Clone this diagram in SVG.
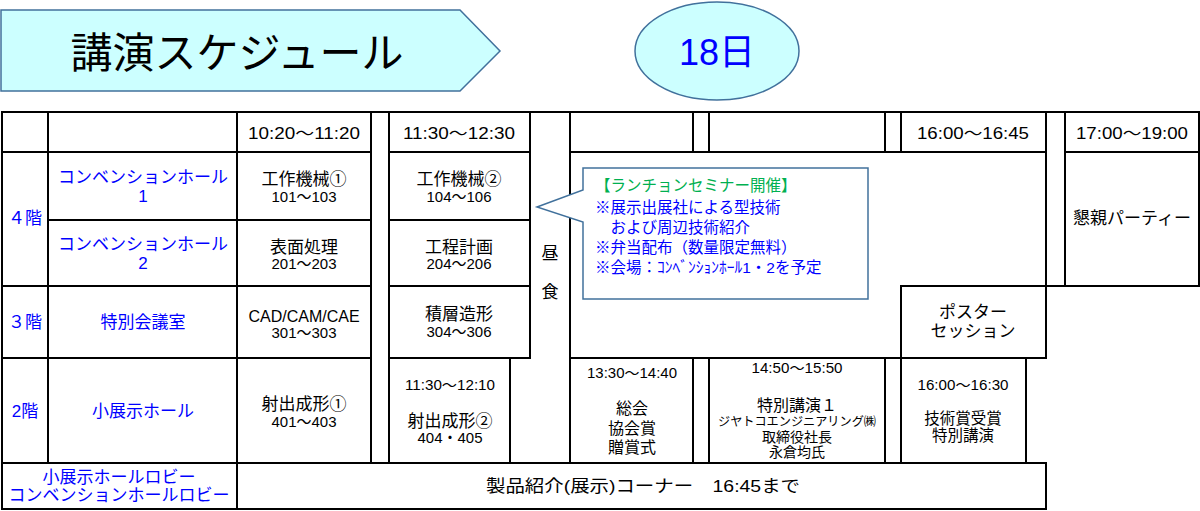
<svg xmlns="http://www.w3.org/2000/svg" width="1200" height="511" viewBox="0 0 1200 511">
<style>
.c{fill:#fff;stroke:#000;stroke-width:2}
.t{font-family:"Liberation Sans","Noto Sans CJK JP",sans-serif;text-anchor:middle;dominant-baseline:central;fill:#000}
.s{text-anchor:start}
.bl{fill:#0000FF}
.gr{fill:#00B050}
.f17{font-size:17px}
.f16{font-size:16px}
.f15{font-size:15.5px}
.f14{font-size:14px}
.n{font-size:15px}
.f13{font-size:12.5px}
.hd{fill:#CCFFFF;stroke:#41719C;stroke-width:1.5}
</style>
<rect width="1200" height="511" fill="#fff"/>
<g id="title">
<polygon class="hd" points="1,10 460,10 500,51 460,91 1,91"/>
<text class="t" x="237" y="53" style="font-size:42px">講演スケジュール</text>
</g>
<g id="day">
<ellipse class="hd" cx="717" cy="51" rx="82" ry="49"/>
<text class="t bl" x="717" y="52" style="font-size:36px">18日</text>
</g>
<g id="header-row">
<rect class="c" x="2" y="112" width="46" height="40"/>
<rect class="c" x="48" y="112" width="189" height="40"/>
<rect class="c" x="237" y="112" width="134" height="40"/>
<text class="t f16" x="304" y="133" textLength="112" lengthAdjust="spacingAndGlyphs">10:20～11:20</text>
<rect class="c" x="389" y="112" width="141" height="40"/>
<text class="t f16" x="459" y="133" textLength="112" lengthAdjust="spacingAndGlyphs">11:30～12:30</text>
<rect class="c" x="570" y="112" width="123" height="40"/>
<rect class="c" x="693" y="112" width="16" height="40"/>
<rect class="c" x="709" y="112" width="176" height="40"/>
<rect class="c" x="885" y="112" width="16" height="40"/>
<rect class="c" x="901" y="112" width="145" height="40"/>
<text class="t f16" x="973" y="133" textLength="112" lengthAdjust="spacingAndGlyphs">16:00～16:45</text>
<rect class="c" x="1065" y="112" width="134" height="40"/>
<text class="t f16" x="1132" y="133" textLength="112" lengthAdjust="spacingAndGlyphs">17:00～19:00</text>
</g>
<g id="gap1"><rect class="c" x="371" y="112" width="18" height="351"/></g>
<g id="gap4"><rect class="c" x="1046" y="112" width="19" height="174"/></g>
<g id="lunch">
<polygon class="c" points="530,112 570,112 570,463 510,463 510,358 530,358"/>
<text class="t f17" x="550" y="253">昼</text>
<text class="t f17" x="550" y="292">食</text>
</g>
<g id="floor4">
<rect class="c" x="2" y="152" width="46" height="134"/>
<text class="t f17 bl" x="25" y="218">４階</text>
</g>
<g id="hall1">
<rect class="c" x="48" y="152" width="189" height="68"/>
<text class="t f17 bl" x="143" y="177">コンベンションホール</text>
<text class="t f17 bl" x="143" y="196">1</text>
</g>
<g id="hall2">
<rect class="c" x="48" y="220" width="189" height="66"/>
<text class="t f17 bl" x="143" y="244">コンベンションホール</text>
<text class="t f17 bl" x="143" y="263">2</text>
</g>
<g id="s101">
<rect class="c" x="237" y="152" width="134" height="68"/>
<text class="t f17" x="304" y="179">工作機械①</text>
<text class="t n" x="304" y="196">101～103</text>
</g>
<g id="s201">
<rect class="c" x="237" y="220" width="134" height="66"/>
<text class="t f17" x="304" y="247">表面処理</text>
<text class="t n" x="304" y="263">201～203</text>
</g>
<g id="s104">
<rect class="c" x="389" y="152" width="141" height="68"/>
<text class="t f17" x="459" y="179">工作機械②</text>
<text class="t n" x="459" y="196">104～106</text>
</g>
<g id="s204">
<rect class="c" x="389" y="220" width="141" height="66"/>
<text class="t f17" x="459" y="247">工程計画</text>
<text class="t n" x="459" y="263">204～206</text>
</g>
<g id="floor3">
<rect class="c" x="2" y="286" width="46" height="72"/>
<text class="t f17 bl" x="25" y="322">３階</text>
</g>
<g id="room3">
<rect class="c" x="48" y="286" width="189" height="72"/>
<text class="t f17 bl" x="143" y="322">特別会議室</text>
</g>
<g id="s301">
<rect class="c" x="237" y="286" width="134" height="72"/>
<text class="t f16" x="304" y="316">CAD/CAM/CAE</text>
<text class="t n" x="304" y="332">301～303</text>
</g>
<g id="s304">
<rect class="c" x="389" y="286" width="141" height="72"/>
<text class="t f17" x="459" y="314">積層造形</text>
<text class="t n" x="459" y="331">304～306</text>
</g>
<g id="seminar-area">
<rect class="c" x="570" y="152" width="476" height="206"/>
</g>
<g id="poster">
<rect class="c" x="901" y="286" width="145" height="72"/>
<text class="t f17" x="973" y="312">ポスター</text>
<text class="t f17" x="973" y="331">セッション</text>
</g>
<g id="party">
<rect class="c" x="1065" y="152" width="134" height="134"/>
<text class="t f17" x="1132" y="218">懇親パーティー</text>
</g>
<g id="floor2">
<rect class="c" x="2" y="358" width="46" height="105"/>
<text class="t f17 bl" x="25" y="411">2階</text>
</g>
<g id="room2">
<rect class="c" x="48" y="358" width="189" height="105"/>
<text class="t f17 bl" x="143" y="411">小展示ホール</text>
</g>
<g id="s401">
<rect class="c" x="237" y="358" width="134" height="105"/>
<text class="t f17" x="304" y="404">射出成形①</text>
<text class="t n" x="304" y="421">401～403</text>
</g>
<g id="s404">
<rect class="c" x="389" y="358" width="121" height="105"/>
<text class="t f14" x="450" y="385" textLength="90" lengthAdjust="spacingAndGlyphs">11:30～12:10</text>
<text class="t f17" x="450" y="421">射出成形②</text>
<text class="t n" x="450" y="437">404・405</text>
</g>
<g id="general">
<rect class="c" x="570" y="358" width="123" height="105"/>
<text class="t f14" x="632" y="373" textLength="90" lengthAdjust="spacingAndGlyphs">13:30～14:40</text>
<text class="t f16" x="632" y="408">総会</text>
<text class="t f16" x="632" y="428">協会賞</text>
<text class="t f16" x="632" y="447">贈賞式</text>
</g>
<g id="gap2"><rect class="c" x="693" y="358" width="16" height="105"/></g>
<g id="special">
<rect class="c" x="709" y="358" width="176" height="105"/>
<text class="t f14" x="797" y="368" textLength="91" lengthAdjust="spacingAndGlyphs">14:50～15:50</text>
<text class="t f16" x="797" y="405">特別講演１</text>
<text class="t f13" x="797" y="422" textLength="158" lengthAdjust="spacingAndGlyphs">ジヤトコエンジニアリング㈱</text>
<text class="t f14" x="797" y="437">取締役社長</text>
<text class="t f14" x="797" y="452">永倉均氏</text>
</g>
<g id="gap3"><rect class="c" x="885" y="358" width="16" height="105"/></g>
<g id="award">
<rect class="c" x="901" y="358" width="125" height="105"/>
<text class="t f14" x="963" y="385" textLength="91" lengthAdjust="spacingAndGlyphs">16:00～16:30</text>
<text class="t f15" x="963" y="418">技術賞受賞</text>
<text class="t f15" x="963" y="435">特別講演</text>
</g>
<g id="lobby">
<rect class="c" x="2" y="463" width="235" height="46"/>
<text class="t f17 bl" x="119" y="477">小展示ホールロビー</text>
<text class="t f17 bl" x="119" y="495">コンベンションホールロビー</text>
</g>
<g id="exhibit">
<rect class="c" x="237" y="463" width="809" height="46"/>
<text class="t f17" x="643" y="486" textLength="314" lengthAdjust="spacingAndGlyphs">製品紹介(展示)コーナー　16:45まで</text>
</g>
<g id="callout">
<polygon points="583,168 868,168 868,299 583,299 583,222 537,207 583,190" fill="#fff" stroke="#41719C" stroke-width="1.5"/>
<text class="t s f15 gr" x="595" y="185">【ランチョンセミナー開催】</text>
<text class="t s f15 bl" x="595" y="207">※展示出展社による型技術</text>
<text class="t s f15 bl" x="595" y="227">　および周辺技術紹介</text>
<text class="t s f15 bl" x="595" y="247">※弁当配布（数量限定無料）</text>
<text class="t s f15 bl" x="595" y="267">※会場：ｺﾝﾍﾞﾝｼｮﾝﾎｰﾙ1・2を予定</text>
</g>
<g id="connectors"></g>
</svg>
